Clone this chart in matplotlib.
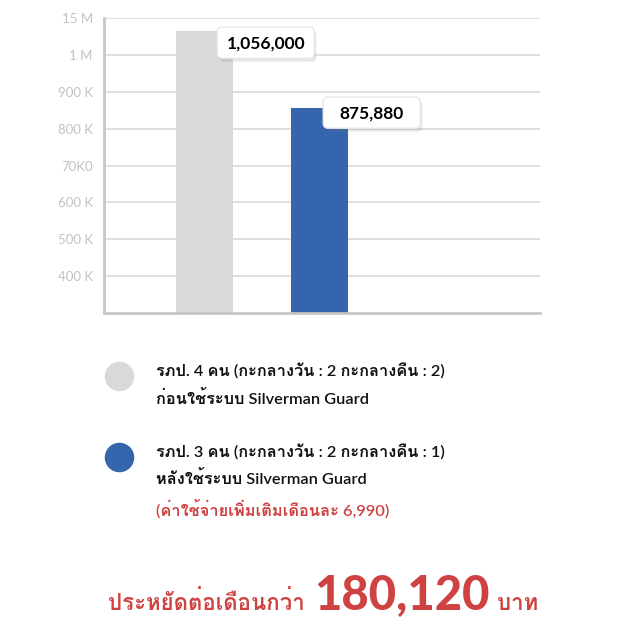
import matplotlib
matplotlib.use("Agg")
import matplotlib.pyplot as plt
from matplotlib import font_manager
from matplotlib.ft2font import FT2Font
from matplotlib.patches import FancyBboxPatch
import matplotlib.patheffects as pe

# data
groups = ["before", "after"]
bar_values = [1065000, 856000]
bar_labels = ["1,056,000", "875,880"]
bar_colors = ["#d9d9d9", "#3465ad"]
y_ticks = [400000, 500000, 600000, 700000, 800000, 900000, 1000000, 1100000]
y_tick_labels = ["400 K", "500 K", "600 K", "70K0", "800 K", "900 K", "1 M", "15 M"]
legend_lines = [
    ["รภป. 4 คน (กะกลางวัน : 2 กะกลางคืน : 2)", "ก่อนใช้ระบบ Silverman Guard"],
    ["รภป. 3 คน (กะกลางวัน : 2 กะกลางคืน : 1)", "หลังใช้ระบบ Silverman Guard"],
]
legend_note = "(ค่าใช้จ่ายเพิ่มเติมเดือนละ 6,990)"
saving_prefix = "ประหยัดต่อเดือนกว่า"
saving_value = "180,120"
saving_unit = "บาท"

RED = "#cf4242"


def find_thai_font():
    for f in font_manager.fontManager.ttflist:
        try:
            cm = FT2Font(f.fname).get_charmap()
        except Exception:
            continue
        if 0x0E01 in cm and 0x0E49 in cm:
            return f.name
    return "DejaVu Sans"


thai = find_thai_font()
fam = ["Lato", thai, "DejaVu Sans"]
plt.rcParams['font.family'] = fam

W, H = 644, 622
fig = plt.figure(figsize=(W / 100, H / 100), dpi=100)
ax = fig.add_axes([104 / W, 1 - 313 / H, 436 / W, (313 - 18.3) / H])

xs = list(range(len(groups)))
ax.bar(xs, bar_values, width=0.5, color=bar_colors, bottom=0, zorder=2)
ax.set_ylim(300000, 1100000)
ax.set_xlim(-100.5 / 115, (436 - 100.5) / 115)
ax.set_yticks(y_ticks)
ax.set_yticklabels(y_tick_labels)
ax.set_xticks([])
ax.tick_params(axis="y", length=0, pad=8, labelsize=9.5, labelcolor="#c2c2c2")
ax.grid(axis="y", color="#d6d6d6", linewidth=1.1, zorder=0)
for s in ["top", "right"]:
    ax.spines[s].set_visible(False)
for s in ["left", "bottom"]:
    ax.spines[s].set_color("#c6c6c6")
    ax.spines[s].set_linewidth(2)

# overlay in pixel coords
ov = fig.add_axes([0, 0, 1, 1])
ov.set_xlim(0, W)
ov.set_ylim(H, 0)
ov.axis("off")
ov.patch.set_alpha(0)

fig.canvas.draw()
box_offsets = [(-16, -4), (-25, -11)]
for i, (v, lab) in enumerate(zip(bar_values, bar_labels)):
    px, py = ax.transData.transform((xs[i] + 0.25, v))
    bx = px + box_offsets[i][0]
    by = (H - py) + box_offsets[i][1]
    box = FancyBboxPatch((bx, by), 97, 31, boxstyle="round,pad=0,rounding_size=5",
                         facecolor="white", edgecolor="#e6e6e6", linewidth=0.8,
                         zorder=5)
    box.set_path_effects([pe.withSimplePatchShadow(offset=(1.5, -2.5), alpha=0.18,
                                                   shadow_rgbFace="#777777"),
                          pe.Normal()])
    ov.add_patch(box)
    ov.text(bx + 48.5, by + 16, lab, ha="center", va="center", fontsize=12.5,
            fontweight="bold", color="black", zorder=6)

# legend
legend_y = [375.5, 456.5]
for i, lines in enumerate(legend_lines):
    ov.scatter([119], [legend_y[i]], s=410, color=bar_colors[i], zorder=3)
    for j, line in enumerate(lines):
        ov.text(156, legend_y[i] - 5 + j * 27.5, line, ha="left", va="center",
                fontsize=11.8, color="#111111", fontweight="semibold")
ov.text(156, legend_y[1] - 5 + 2 * 28.5, legend_note, ha="left", va="center",
        fontsize=11.8, color=RED, fontweight="semibold")

# bottom saving line
ov.text(108, 610, saving_prefix, ha="left", va="baseline", fontsize=16,
        fontweight="bold", color=RED)
ov.text(314, 610, saving_value, ha="left", va="baseline", fontsize=34,
        fontweight="black", color=RED)
ov.text(497, 610, saving_unit, ha="left", va="baseline", fontsize=16,
        fontweight="bold", color=RED)

fig.savefig("out.png", dpi=100)
